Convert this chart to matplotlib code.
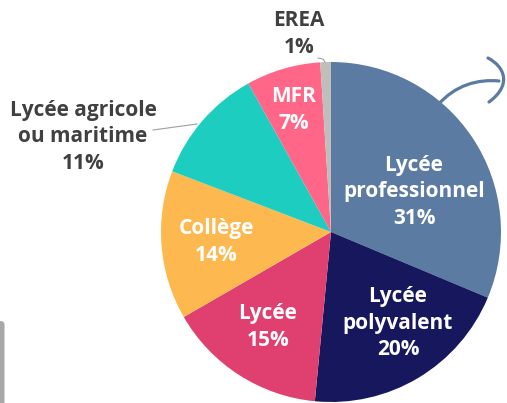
import numpy as np
import matplotlib.pyplot as plt
from matplotlib.patches import FancyBboxPatch, PathPatch
from matplotlib.path import Path

plt.rcParams['font.family'] = ['Open Sans', 'DejaVu Sans']

labels = ['Lycée\nprofessionnel', 'Lycée\npolyvalent', 'Lycée', 'Collège',
          'Lycée agricole\nou maritime', 'MFR', 'EREA']
values = [31, 20, 15, 14, 11, 7, 1]
colors = ['#5B7BA3', '#17175E', '#E0406F', '#FDB94F', '#1DCDBF', '#FF6688', '#C0BEBA']
# label centres as (dx, dy) from pie centre, in pixels
label_offsets = [(83, 40), (67, -91), (-63, -95), (-115, -10), (-248, 95), (-37, 122), (-32, 198)]
inside = [True, True, True, True, False, True, False]

fig = plt.figure(figsize=(5.07, 4.03), dpi=100)
ax = fig.add_axes([0, 0, 1, 1])

cx, cy, r = 331, 171, 170
wedges, _ = ax.pie(values, colors=colors, startangle=90, counterclock=False,
                   center=(cx, cy), radius=r, frame=True,
                   wedgeprops=dict(linewidth=0))
ax.set_xlim(0, 507)
ax.set_ylim(0, 403)
ax.set_aspect('equal')
ax.axis('off')

grey = '#404040'
for lab, v, (dx, dy), ins in zip(labels, values, label_offsets, inside):
    ax.text(cx + dx, cy + dy, f'{lab}\n{v}%', ha='center', va='center',
            color='white' if ins else grey,
            fontsize=15, fontweight='bold', linespacing=1.33)

# leader lines
ax.plot([153, 197], [273, 279], color='#A0A0A0', lw=0.8)
ax.plot([318, 323, 325], [345, 344, 341], color='#A0A0A0', lw=0.8)

# decorative arrow
arc = Path([(438, 298), (455, 318), (478, 324), (499, 322)],
           [Path.MOVETO, Path.CURVE4, Path.CURVE4, Path.CURVE4])
ax.add_patch(PathPatch(arc, fill=False, edgecolor='#5B7BA3', lw=2.3, capstyle='round'))
head = Path([(488, 345), (505, 336), (512, 318), (489, 301)],
            [Path.MOVETO, Path.CURVE4, Path.CURVE4, Path.CURVE4])
ax.add_patch(PathPatch(head, fill=False, edgecolor='#5B7BA3', lw=2.3, capstyle='round'))

# grey tab bottom-left
ax.add_patch(FancyBboxPatch((-10, -10), 14.5, 92, boxstyle='round,pad=0,rounding_size=4',
                            facecolor='#A8A8A8', edgecolor='none'))

fig.savefig('out.png', dpi=100)
